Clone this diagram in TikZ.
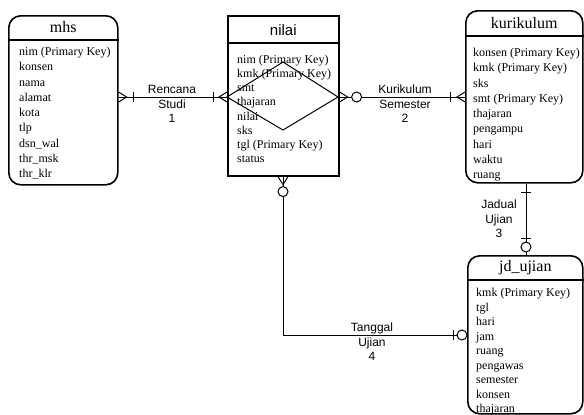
\documentclass[tikz,border=0pt]{standalone}
\usepackage{fontspec}
\setmainfont{Liberation Serif}
\newfontfamily\lsans{Liberation Sans}
\usetikzlibrary{calc}
\begin{document}
\begin{tikzpicture}[x=1pt,y=-1pt,
  entbox/.style={draw, line width=1.6pt, rounded corners=12pt, inner sep=0pt, anchor=north west},
  sqbox/.style={draw, line width=1.6pt, inner sep=0pt, anchor=north west},
  hdr/.style={line width=1.6pt},
  ttl/.style={font=\fontsize{16}{18}\selectfont, inner sep=0pt},
  attr/.style={font=\fontsize{12}{14}\selectfont, anchor=base west, inner sep=0pt},
  rlabel/.style={font=\lsans\fontsize{12}{14.5}\selectfont, align=center, inner sep=0pt},
  conn/.style={line width=1pt},
  crowfoot/.pic={\draw[conn] (0,-5) -- (8,0) -- (0,5); \draw[conn] (0,0) -- (8,0);},
  onebar/.pic={\draw[conn] (0,-5) -- (0,5);},
  zerocirc/.pic={\draw[conn, fill=white] (0,0) circle (5);}
]
\useasboundingbox (0,0) rectangle (584,415);

% entities
\node[entbox, minimum width=109pt, minimum height=169pt] (mhs) at (8,15) {};
\draw[hdr] ($(mhs.north west)+(0,25)$) -- ($(mhs.north east)+(0,25)$);
\node[ttl] (mhsT) at ($(mhs.north)+(0,12.5)$) {mhs};
\foreach \t [count=\i from 0] in {nim (Primary Key),konsen,nama,alamat,kota,tlp,dsn\_wal,thr\_msk,thr\_klr}
  \node[attr] (mhs-\i) at (19, 55.5+15.25*\i) {\t};

\node[sqbox, minimum width=111pt, minimum height=160pt] (nilai) at (227,15) {};
\draw[hdr] ($(nilai.north west)+(0,28)$) -- ($(nilai.north east)+(0,28)$);
\node[ttl, font=\lsans\fontsize{15}{18}\selectfont] (nilaiT) at ($(nilai.north)+(0,15)$) {nilai};
\foreach \t [count=\i from 0] in {nim (Primary Key),kmk (Primary Key),smt,thajaran,nilai,sks,tgl (Primary Key),status}
  \node[attr] (nilai-\i) at (237, 63.5+14.15*\i) {\t};
\coordinate (dT) at (283,62);
\coordinate (dL) at (227,97);
\coordinate (dB) at (283,130);
\coordinate (dR) at (338,97);
\draw[conn] (dT) -- (dR) -- (dB) -- (dL) -- cycle;

\node[entbox, minimum width=117pt, minimum height=172pt] (kur) at (465,10) {};
\draw[hdr] ($(kur.north west)+(0,26)$) -- ($(kur.north east)+(0,26)$);
\node[ttl] (kurT) at ($(kur.north)+(0,13)$) {kurikulum};
\foreach \t [count=\i from 0] in {konsen (Primary Key),kmk (Primary Key),sks,smt (Primary Key),thajaran,pengampu,hari,waktu,ruang}
  \node[attr] (kur-\i) at (473, 56.5+15.25*\i) {\t};

\node[entbox, minimum width=115pt, minimum height=158pt] (jd) at (467,255) {};
\draw[hdr] ($(jd.north west)+(0,25)$) -- ($(jd.north east)+(0,25)$);
\node[ttl] (jdT) at ($(jd.north)+(0,12.5)$) {jd\_ujian};
\foreach \t [count=\i from 0] in {kmk (Primary Key),tgl,hari,jam,ruang,pengawas,semester,konsen,thajaran}
  \node[attr] (jd-\i) at (476, 296.5+14.5*\i) {\t};

% helper rows/columns
\coordinate (y97) at (0,97);
\coordinate (y335) at (0,335);
\coordinate (x526) at (526,0);
\coordinate (x283) at (283,0);

% Rencana Studi 1
\coordinate (r1a) at (mhs.east |- y97);
\coordinate (r1b) at (nilai.west |- y97);
\draw[conn] (r1a) -- (r1b);
\pic at (r1a) {crowfoot};
\pic at ($(r1a)+(15,0)$) {onebar};
\pic[rotate=180] at (r1b) {crowfoot};
\pic at ($(r1b)+(-14,0)$) {onebar};
\node[rlabel] (l1) at (172,104) {Rencana\\Studi\\1};

% Kurikulum Semester 2
\coordinate (r2a) at (nilai.east |- y97);
\coordinate (r2b) at (kur.west |- y97);
\draw[conn] (r2a) -- (r2b);
\pic at (r2a) {crowfoot};
\pic at ($(r2a)+(17,0)$) {zerocirc};
\pic[rotate=180] at (r2b) {crowfoot};
\pic at ($(r2b)+(-15,0)$) {onebar};
\node[rlabel] (l2) at (405,104) {Kurikulum\\Semester\\2};

% Jadual Ujian 3
\coordinate (r3a) at (x526 |- kur.south);
\coordinate (r3b) at (x526 |- jd.north);
\draw[conn] (r3a) -- (r3b);
\pic[rotate=90] at ($(r3a)+(0,9)$) {onebar};
\pic[rotate=90] at ($(r3b)+(0,-17)$) {onebar};
\pic at ($(r3b)+(0,-8)$) {zerocirc};
\node[rlabel] (l3) at (499,219) {Jadual\\Ujian\\3};

% Tanggal Ujian 4
\coordinate (r4a) at (x283 |- nilai.south);
\coordinate (r4b) at (jd.west |- y335);
\coordinate (r4k) at (x283 |- y335);
\draw[conn] (r4a) -- (r4k) -- (r4b);
\pic[rotate=-90] at (r4a) {crowfoot};
\pic at ($(r4a)+(0,15)$) {zerocirc};
\pic at ($(r4b)+(-14,0)$) {onebar};
\pic at ($(r4b)+(-5,0)$) {zerocirc};
\node[rlabel] (l4) at (372,342) {Tanggal\\Ujian\\4};
\end{tikzpicture}
\end{document}
